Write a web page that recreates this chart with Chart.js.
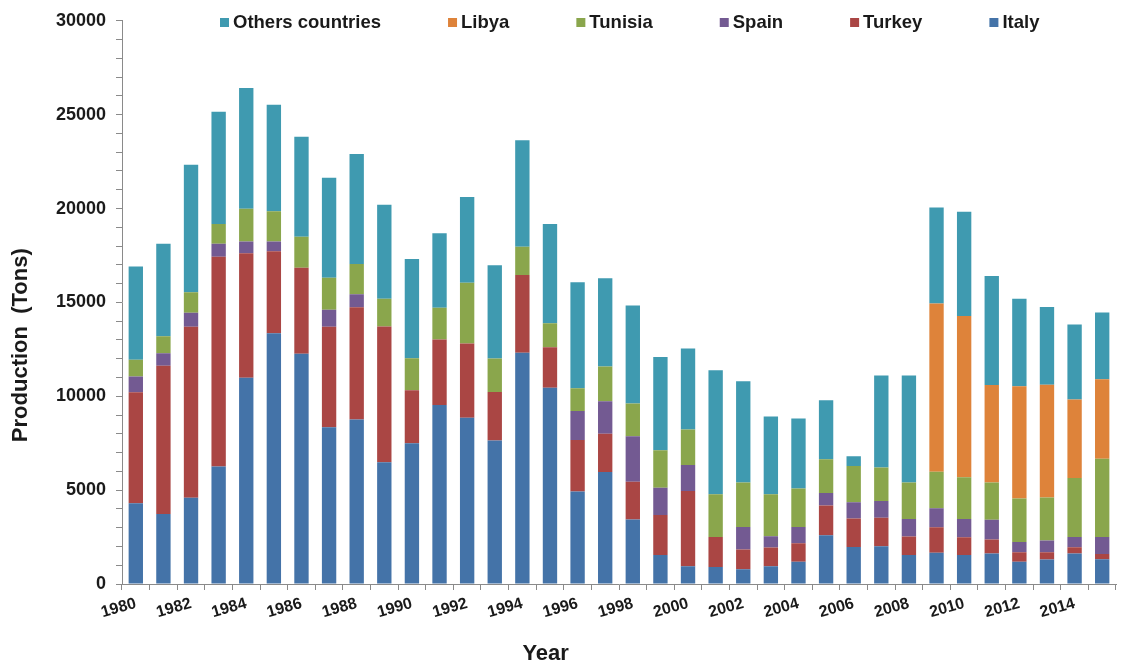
<!DOCTYPE html>
<html>
<head>
<meta charset="utf-8">
<script src="https://cdn.jsdelivr.net/npm/chart.js@4/dist/chart.umd.min.js"></script>
<style>
  html, body { margin: 0; padding: 0; background: #ffffff; }
  #wrap { width: 1127px; height: 670px; position: relative; }
</style>
</head>
<body>
<div id="wrap"><canvas id="c" width="1127" height="670"></canvas></div>
<script>
const years = ['1980','1981','1982','1983','1984','1985','1986','1987','1988','1989',
  '1990','1991','1992','1993','1994','1995','1996','1997','1998','1999',
  '2000','2001','2002','2003','2004','2005','2006','2007','2008','2009',
  '2010','2011','2012','2013','2014','2015'];

const italy = [4300,3730,4600,6260,10990,13360,12260,8350,8760,6490,
  7500,9530,8860,7640,12320,10460,4930,5960,3430,1540,
  950,910,790,950,1180,2600,1970,2010,1540,1660,
  1540,1620,1180,1300,1620,1320];

const turkey = [5920,7890,9100,11170,6630,4360,4580,5350,5980,7220,
  2820,3490,3950,2590,4140,2150,2740,2050,2010,2130,
  4010,1600,1050,990,990,1580,1520,1520,990,1360,
  950,750,510,390,340,280];

const spain = [830,670,750,690,630,530,0,910,690,0,
  0,0,0,0,0,0,1540,1720,2430,1460,
  1380,0,1200,610,870,670,870,890,930,1010,
  970,1050,550,630,550,910];

const tunisia = [890,910,1090,1050,1740,1600,1660,1700,1620,1480,
  1700,1700,3240,1780,1500,1280,1220,1860,1740,1990,
  1890,2270,2370,2230,2050,1800,1930,1780,1950,1950,
  2230,1990,2310,2290,3140,4160];

const libya = [0,0,0,0,0,0,0,0,0,0,
  0,0,0,0,0,0,0,0,0,0,
  0,0,0,0,0,0,0,0,0,8960,
  8590,5190,5980,6000,4180,4240];

const others = [4970,4930,6790,5980,6430,5680,5330,5330,5860,5010,
  5290,3970,4560,4970,5680,5290,5640,4700,5230,4970,
  4320,6610,5390,4140,3730,3140,510,4910,5700,5110,
  5550,5800,4660,4140,3990,3550];

const yTicks = [0, 5000, 10000, 15000, 20000, 25000, 30000];

const seriesNames = ['Italy','Turkey','Spain','Tunisia','Libya','Others countries'];
const seriesData = [italy, turkey, spain, tunisia, libya, others];
const seriesColors = ['#4473A8','#AA4644','#735A92','#8AA64C','#DE833A','#3F9AB0'];
const legendOrder = ['Others countries','Libya','Tunisia','Spain','Turkey','Italy'];

const FONT = '"Liberation Sans", Arial, Helvetica, sans-serif';
const TXT = '#1a1a1a';
const AX = '#8a8a8a';

const legendPlugin = {
  id: 'topLegend',
  afterDraw(chart) {
    const ctx = chart.ctx;
    ctx.save();
    ctx.font = 'bold 18.5px ' + FONT;
    ctx.textBaseline = 'middle';
    ctx.textAlign = 'left';
    let x = 220;
    const yc = 22.5;
    legendOrder.forEach(name => {
      const ds = chart.data.datasets.find(d => d.label === name);
      ctx.fillStyle = ds.backgroundColor;
      ctx.fillRect(x, yc - 4.5, 9, 9);
      x += 13;
      ctx.fillStyle = TXT;
      ctx.fillText(name, x, yc);
      x += ctx.measureText(name).width + 67;
    });
    ctx.restore();
  }
};

new Chart(document.getElementById('c'), {
  type: 'bar',
  data: {
    labels: years,
    datasets: seriesNames.map((n, i) => ({
      label: n,
      data: seriesData[i],
      backgroundColor: seriesColors[i],
      borderWidth: 0,
      categoryPercentage: 1.0,
      barPercentage: 0.52
    }))
  },
  options: {
    responsive: false,
    animation: false,
    devicePixelRatio: 1,
    layout: { padding: { top: 19, right: 11, left: 0, bottom: 0 } },
    plugins: {
      legend: { display: false },
      tooltip: { enabled: false }
    },
    scales: {
      x: {
        stacked: true,
        offset: true,
        grid: { display: true, drawOnChartArea: false, tickLength: 6, color: AX, offset: true },
        border: { display: true, color: AX, width: 1 },
        ticks: {
          autoSkip: false,
          minRotation: 16,
          maxRotation: 16,
          padding: 4,
          color: TXT,
          font: { family: FONT, size: 16, weight: 'bold' },
          callback: function(v, i) { return i % 2 === 0 ? years[i] : ''; }
        },
        title: {
          display: true,
          text: 'Year' + '\u00a0'.repeat(24),
          color: TXT,
          font: { family: FONT, size: 22, weight: 'bold' },
          padding: { top: 0, bottom: 3 }
        },
        afterFit: function(s) { s.height = 86; }
      },
      y: {
        stacked: true,
        min: yTicks[0],
        max: yTicks[yTicks.length - 1],
        grid: { display: true, drawOnChartArea: false, tickLength: 6, color: AX },
        border: { display: true, color: AX, width: 1 },
        ticks: {
          stepSize: 1000,
          autoSkip: false,
          padding: 10,
          color: TXT,
          font: { family: FONT, size: 18, weight: 'bold' },
          callback: function(v) { return yTicks.includes(v) ? String(v) : ''; }
        },
        title: {
          display: true,
          text: 'Production\u00a0\u00a0(Tons)' + '\u00a0'.repeat(14),
          color: TXT,
          font: { family: FONT, size: 22, weight: 'bold' },
          padding: { top: 8, bottom: 0 }
        },
        afterFit: function(s) { s.width = 122; }
      }
    }
  },
  plugins: [legendPlugin]
});
</script>
</body>
</html>
